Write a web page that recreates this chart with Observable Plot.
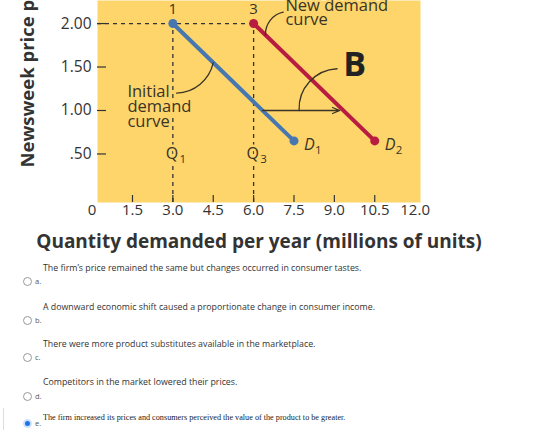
<!DOCTYPE html>
<html><head><meta charset="utf-8">
<script src="https://cdn.jsdelivr.net/npm/d3@7"></script>
<script src="https://cdn.jsdelivr.net/npm/@observablehq/plot@0.6"></script>
<style>
html,body{margin:0;padding:0;background:#fff;}
body{width:560px;height:430px;overflow:hidden;position:relative;font-family:"Open Sans",sans-serif;}
#chart svg{display:block;}
#opts{position:absolute;left:0;top:0;width:560px;height:430px;}
.q{position:absolute;left:43px;font-size:8.8px;line-height:12px;color:#333;white-space:nowrap;}
.q.serif{font-family:"Liberation Serif",serif;font-size:8.2px;color:#222;}
.r{position:absolute;left:23px;font-size:7.5px;line-height:12px;color:#555;white-space:nowrap;}
.r .c{display:inline-block;width:9px;height:9px;box-sizing:border-box;border:1px solid #999;border-radius:50%;vertical-align:-2px;margin-right:3px;background:#fff;}
.r .c.on{border:2px solid #cfe0ff;background:#1a73e8;}
.edge{position:absolute;left:0;top:408px;width:3px;height:22px;border-right:1px solid #ddd;}
</style></head><body>
<div id="chart"></div>
<div id="opts"></div>
<script>
// ---- data ----
const xDomain = [0.2, 12.2];
const yDomain = [-0.058, 2.265];
const xTickValues = [1.5, 3, 4.5, 6, 7.5, 9, 10.5];
const xLabelValues = [0, 1.5, 3, 4.5, 6, 7.5, 9, 10.5, 12];
const xLabels = ["0", "1.5", "3.0", "4.5", "6.0", "7.5", "9.0", "10.5", "12.0"];
const yTickValues = [2, 1.5, 1, 0.5];
const yLabels = ["2.00", "1.50", "1.00", ".50"];
const initialX = [3, 7.5];
const initialY = [2, 0.65];
const newX = [6, 10.5];
const newY = [2, 0.65];
const price = 2;
const qValues = [3, 6];
const qTopLabels = ["1", "3"];
const qLabelY = 0.5;
const qLetters = ["Q", "Q"];
const qSubs = ["1", "3"];
const dLetters = ["D", "D"];
const dSubs = ["1", "2"];
const shiftX = [6.33, 9.2];
const shiftY = 1.0;
const leaderX1 = [3.14, 7.1, 9.1];
const leaderY1 = [1.2, 2.13, 1.48];
const leaderX2 = [4.5, 6.44, 7.69];
const leaderY2 = [1.55, 1.868, 1.0];
const leaderBend = [-38, -40, -45];
const noteX = [1.31, 7.18, 9.75];
const noteY = [1.276, 2.27, 1.517];
const noteText = ["Initial\ndemand\ncurve", "New demand\ncurve", "B"];
const xTitle = "Quantity demanded per year (millions of units)";
const yTitle = "Newsweek price per copy";
const optionTexts = [
  "The firm\u2019s price remained the same but changes occurred in consumer tastes.",
  "A downward economic shift caused a proportionate change in consumer income.",
  "There were more product substitutes available in the marketplace.",
  "Competitors in the market lowered their prices.",
  "The firm increased its prices and consumers perceived the value of the product to be greater."
];
const optionLetters = ["a.", "b.", "c.", "d.", "e."];
const selectedOption = 4;

// ---- styles ----
const yellow = "#fdd56b";
const blue = "#4677b0";
const red = "#b81c40";
const ink = "#3a3326";
const font = "Open Sans";

const initial = initialX.map((x, i) => ({x, y: initialY[i]}));
const shifted = newX.map((x, i) => ({x, y: newY[i]}));
const ends = [{x: initialX[1], y: initialY[1]}, {x: newX[1], y: newY[1]}];

const leaderMarks = leaderX1.map((x1, i) =>
  Plot.arrow([{x1, y1: leaderY1[i], x2: leaderX2[i], y2: leaderY2[i]}],
    {x1: "x1", y1: "y1", x2: "x2", y2: "y2", bend: leaderBend[i], headLength: 0, stroke: ink, strokeWidth: 1.3})
);

const chart = Plot.plot({
  width: 560, height: 258,
  marginLeft: 97, marginRight: 140, marginTop: 0, marginBottom: 56,
  x: {domain: xDomain},
  y: {domain: yDomain},
  style: {fontFamily: font, color: "#333", background: "transparent"},
  marks: [
    Plot.frame({fill: yellow, stroke: null}),
    Plot.axisX({ticks: xTickValues, tickSize: 7, dy: -7, tickFormat: () => "", label: null, stroke: "#333", strokeWidth: 1.2}),
    Plot.axisY({ticks: yTickValues, tickSize: 9, dx: 9, tickFormat: () => "", label: null, stroke: "#333", strokeWidth: 1.2}),
    Plot.text(xLabelValues, {x: d => d, text: (d, i) => xLabels[i], frameAnchor: "bottom", dy: 12, fontSize: 15, fill: "#333"}),
    Plot.text(yTickValues, {y: d => d, text: (d, i) => yLabels[i], frameAnchor: "left", dx: -6, textAnchor: "end", fontSize: 15.5, fill: "#333"}),
    // dashed guides
    Plot.ruleY([price], {x1: xDomain[0], x2: newX[0], stroke: "#333", strokeWidth: 1.3, strokeDasharray: "4,4"}),
    Plot.ruleX(qValues, {y1: yDomain[0], y2: price, stroke: "#333", strokeWidth: 1.3, strokeDasharray: "4,4"}),
    // Q labels
    Plot.text(qValues, {x: d => d, y: qLabelY, text: (d, i) => qLetters[i], fontSize: 16, fill: ink, stroke: yellow, strokeWidth: 5, paintOrder: "stroke", dx: -1}),
    Plot.text(qValues, {x: d => d, y: qLabelY, text: (d, i) => qSubs[i], fontSize: 11.5, fill: ink, dx: 10, dy: 5}),
    Plot.text(qValues, {x: d => d, y: price, text: (d, i) => qTopLabels[i], fontSize: 15, fill: ink, dy: -14}),
    // demand curves
    Plot.line(initial, {x: "x", y: "y", stroke: blue, strokeWidth: 4}),
    Plot.line(shifted, {x: "x", y: "y", stroke: red, strokeWidth: 4}),
    Plot.dot(initial, {x: "x", y: "y", r: 4.5, fill: blue}),
    Plot.dot(shifted, {x: "x", y: "y", r: 4.5, fill: red}),
    Plot.text(ends, {x: "x", y: "y", text: (d, i) => dLetters[i], textAnchor: "start", dx: 10, dy: 4, fontSize: 16, fontStyle: "italic", fill: ink}),
    Plot.text(ends, {x: "x", y: "y", text: (d, i) => dSubs[i], textAnchor: "start", dx: 21, dy: 9, fontSize: 11.5, fill: ink}),
    // shift arrow
    Plot.arrow([{x1: shiftX[0], x2: shiftX[1], y: shiftY}], {x1: "x1", x2: "x2", y1: "y", y2: "y", stroke: ink, strokeWidth: 1.3, headLength: 9, headAngle: 45}),
    ...leaderMarks,
    // annotations
    Plot.text(noteText.slice(0, 2), {x: (d, i) => noteX[i], y: (d, i) => noteY[i], text: d => d, textAnchor: "start", lineAnchor: "top", lineHeight: 0.9, fontSize: 16.5, fill: ink, stroke: yellow, strokeWidth: 4, paintOrder: "stroke"}),
    Plot.text([noteText[2]], {x: noteX[2], y: noteY[2], text: d => d, fontSize: 34, fontWeight: "bold", fill: "#222"}),
    // axis titles
    Plot.text([xTitle], {text: d => d, frameAnchor: "bottom", dy: 45, fontSize: 19, fontWeight: "bold", fill: "#333"}),
    Plot.text([yTitle], {text: d => d, frameAnchor: "bottom-left", dx: -64, dy: -35, rotate: -90, textAnchor: "start", fontSize: 18.5, fontWeight: "bold", fill: "#333"})
  ]
});
document.getElementById("chart").appendChild(chart);

// ---- answer options ----
const opts = document.getElementById("opts");
const textTops = [262, 301, 338, 376, 412];
const radioTops = [275, 314, 351, 390, 417];
optionTexts.forEach((t, i) => {
  const q = document.createElement("div");
  q.className = "q" + (i === selectedOption ? " serif" : "");
  q.style.top = textTops[i] + "px";
  q.textContent = t;
  opts.appendChild(q);
  const r = document.createElement("div");
  r.className = "r";
  r.style.top = radioTops[i] + "px";
  r.innerHTML = '<span class="c' + (i === selectedOption ? " on" : "") + '"></span>' + optionLetters[i];
  opts.appendChild(r);
});
const edge = document.createElement("div");
edge.className = "edge";
opts.appendChild(edge);
</script>
</body></html>
